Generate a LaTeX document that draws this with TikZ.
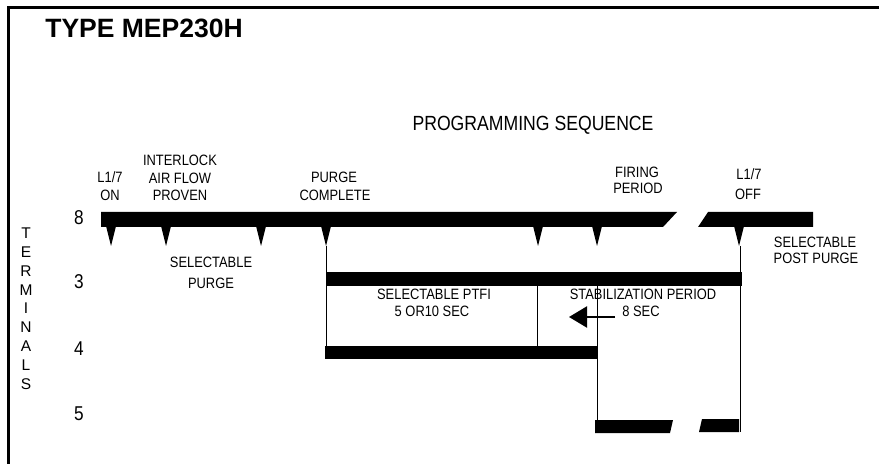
\documentclass[tikz,border=0pt]{standalone}
\usepackage{fontspec}
\setmainfont{Liberation Sans}
\newfontfamily\cond[FakeStretch=0.86]{Liberation Sans}
\usetikzlibrary{arrows.meta}
\begin{document}
\begin{tikzpicture}[x=1bp,y=-1bp,
  lbl/.style={font=\cond\fontsize{15bp}{17bp}\selectfont, inner sep=0pt, anchor=center},
  big/.style={font=\cond\fontsize{20.5bp}{24bp}\selectfont, inner sep=0pt, anchor=center},
  num/.style={font=\cond\fontsize{20bp}{24bp}\selectfont, inner sep=0pt, anchor=center},
  term/.style={font=\fontsize{15.5bp}{18bp}\selectfont, inner sep=0pt, anchor=center},
  titl/.style={font=\bfseries\fontsize{26.5bp}{30bp}\selectfont, inner sep=0pt, anchor=center},
  bar/.style={fill=black, draw=none},
  vline/.style={line width=1bp},
  arr/.style={line width=2.2bp, -{Triangle[length=18bp,width=21bp]}}]
\useasboundingbox (0,0) rectangle (879,464);
\fill[white] (0,0) rectangle (879,464);
% frame
\draw[line width=3bp] (8.5,464) -- (8.5,7.5) -- (879,7.5);
% title
\node[titl] (title) at (144,28) {TYPE MEP230H};
\node[big] (prog) at (533,125.5) {PROGRAMMING SEQUENCE};
% terminal numbers
\node[num] (n8) at (79,218) {8};
\node[num] (n3) at (79,282) {3};
\node[num] (n4) at (79,349) {4};
\node[num] (n5) at (79,414) {5};
% TERMINALS vertical
\foreach \c [count=\i from 0] in {T,E,R,M,I,N,A,L,S} {
  \node[term] (term\i) at (26,233+18.9*\i) {\c};
}
% top labels
\node[lbl] (l17a) at (110,177) {L1/7};
\node[lbl] (on) at (110,195) {ON};
\node[lbl] (intl) at (180,160) {INTERLOCK};
\node[lbl] (airf) at (180,178) {AIR FLOW};
\node[lbl] (prov) at (180,195) {PROVEN};
\node[lbl] (purg) at (334,177) {PURGE};
\node[lbl] (comp) at (335,195) {COMPLETE};
\node[lbl] (firi) at (637,172) {FIRING};
\node[lbl] (peri) at (638,188) {PERIOD};
\node[lbl] (l17b) at (749,174) {L1/7};
\node[lbl] (off) at (748,194) {OFF};
% lower labels
\node[lbl] (sel1) at (211,262) {SELECTABLE};
\node[lbl] (purg2) at (211,283) {PURGE};
\node[lbl] (ptfi) at (434,294) {SELECTABLE PTFI};
\node[lbl] (sec5) at (432,311) {5 OR10 SEC};
\node[lbl] (stab) at (643,294) {STABILIZATION PERIOD};
\node[lbl] (sec8) at (641,311) {8 SEC};
\node[lbl] (sel2) at (815,242) {SELECTABLE};
\node[lbl] (post) at (816,258) {POST PURGE};
% bar 8
\fill[bar] (101,212) -- (677,212) -- (663,227) -- (101,227) -- cycle;
\fill[bar] (708,212) -- (813,212) -- (813,227) -- (698,227) -- cycle;
% ticks on bar 8
\foreach \x/\n in {111/a,166/b,261/c,326/d,538/e,597/f,739/g} {
  \fill (\x-5,226) -- (\x+5,226) -- (\x,246) -- cycle;
  \coordinate (t\n) at (\x,246);
}
% bar 3
\fill[bar] (327,272) rectangle (742,286);
% bar 4
\fill[bar] (325,346) rectangle (598,359);
% bar 5
\fill[bar] (595,420) -- (673,420) -- (670,433) -- (595,433) -- cycle;
\fill[bar] (702,419) -- (739,419) -- (739,432) -- (699,432) -- cycle;
% vertical lines
\coordinate (d4) at (326,359);
\coordinate (e3) at (537,286);
\coordinate (e4) at (537,346);
\coordinate (f3) at (597,286);
\coordinate (f5) at (597,432);
\coordinate (g5) at (740,432);
\coordinate (g0) at (740,246);
\draw[vline] (td) -- (d4);
\draw[vline] (e3) -- (e4);
\draw[vline] (f3) -- (f5);
\draw[vline] (g0) -- (g5);
% arrow
\coordinate (arrS) at (615,317);
\coordinate (arrE) at (569,317);
\draw[arr] (arrS) -- (arrE);
\end{tikzpicture}
\end{document}
